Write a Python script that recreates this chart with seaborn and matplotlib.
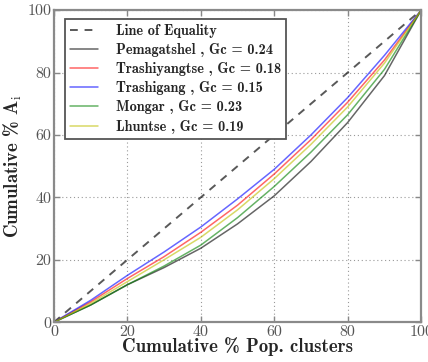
import matplotlib
matplotlib.use("Agg")
import matplotlib.pyplot as plt
import seaborn as sns

# Lorenz curves (cumulative % of population clusters)
pop_pct = [0, 10, 20, 30, 40, 50, 60, 70, 80, 90, 100]
equality = [0, 100]

pemagatshel = [0, 5.5, 12, 17.5, 23.7, 31.5, 40.5, 51.5, 64, 79, 100]
trashiyangtse = [0, 6.5, 14, 21, 28.8, 37.5, 47.5, 58.5, 70.5, 84, 100]
trashigang = [0, 7, 15, 22.5, 30.5, 39.5, 49, 60, 72, 85.5, 100]
mongar = [0, 5.5, 12, 18, 24.7, 33.5, 43.5, 54.5, 66.5, 81, 100]
lhuntse = [0, 6, 13, 20, 27.2, 36, 46, 57, 69, 83, 100]

districts = ["Pemagatshel", "Trashiyangtse", "Trashigang", "Mongar", "Lhuntse"]
gini = [0.24, 0.18, 0.15, 0.23, 0.19]
curves = [pemagatshel, trashiyangtse, trashigang, mongar, lhuntse]
colors = ["k", "r", "b", "g", "y"]

sns.set_style("ticks")
plt.rcParams["font.family"] = ["cmr10", "DejaVu Serif"]
plt.rcParams["mathtext.fontset"] = "cm"
plt.rcParams["axes.unicode_minus"] = False

fig = plt.figure(figsize=(4.28, 3.62), dpi=100)
ax = fig.add_axes([0.126, 0.110, 0.858, 0.862])

sns.lineplot(x=[0, 100], y=equality, ax=ax, color="k", alpha=0.65,
             linestyle=(0, (4, 3.5)), linewidth=1.4, label="Line of Equality")
for name, g, ys, c in zip(districts, gini, curves, colors):
    sns.lineplot(x=pop_pct, y=ys, ax=ax, color=c, alpha=0.6, linewidth=1.1,
                 label=f"{name} , Gc = {g:.2f}")

ax.set_xlim(0, 100)
ax.set_ylim(0, 100)
ax.set_xticks([0, 20, 40, 60, 80, 100])
ax.set_yticks([0, 20, 40, 60, 80, 100])
ax.grid(True, linestyle=(0, (1, 2.5)), color="#999999", linewidth=0.8)
ax.tick_params(direction="in", top=True, right=True, length=4, width=1,
               color="#888888", labelsize=11.5, labelcolor="#555555", pad=2)
for s in ax.spines.values():
    s.set_color("#8a8a8a")
    s.set_linewidth(1.6)

ax.set_xlabel("Cumulative % Pop. clusters", family=["cmb10", "DejaVu Serif"],
              fontsize=13.5, labelpad=-1)
ax.set_ylabel(r"Cumulative % A$_\mathrm{i}$", family=["cmb10", "DejaVu Serif"],
              fontsize=13.5, labelpad=2)

leg = ax.legend(loc="upper left", bbox_to_anchor=(0.01, 0.995), fancybox=False,
                framealpha=1, edgecolor="#555555", handlelength=2.0,
                borderpad=0.35, labelspacing=0.36, handletextpad=1.2,
                prop={"family": ["cmb10", "DejaVu Serif"], "size": 10.3})
leg.get_frame().set_linewidth(1.3)

fig.savefig("out.png", dpi=100)
